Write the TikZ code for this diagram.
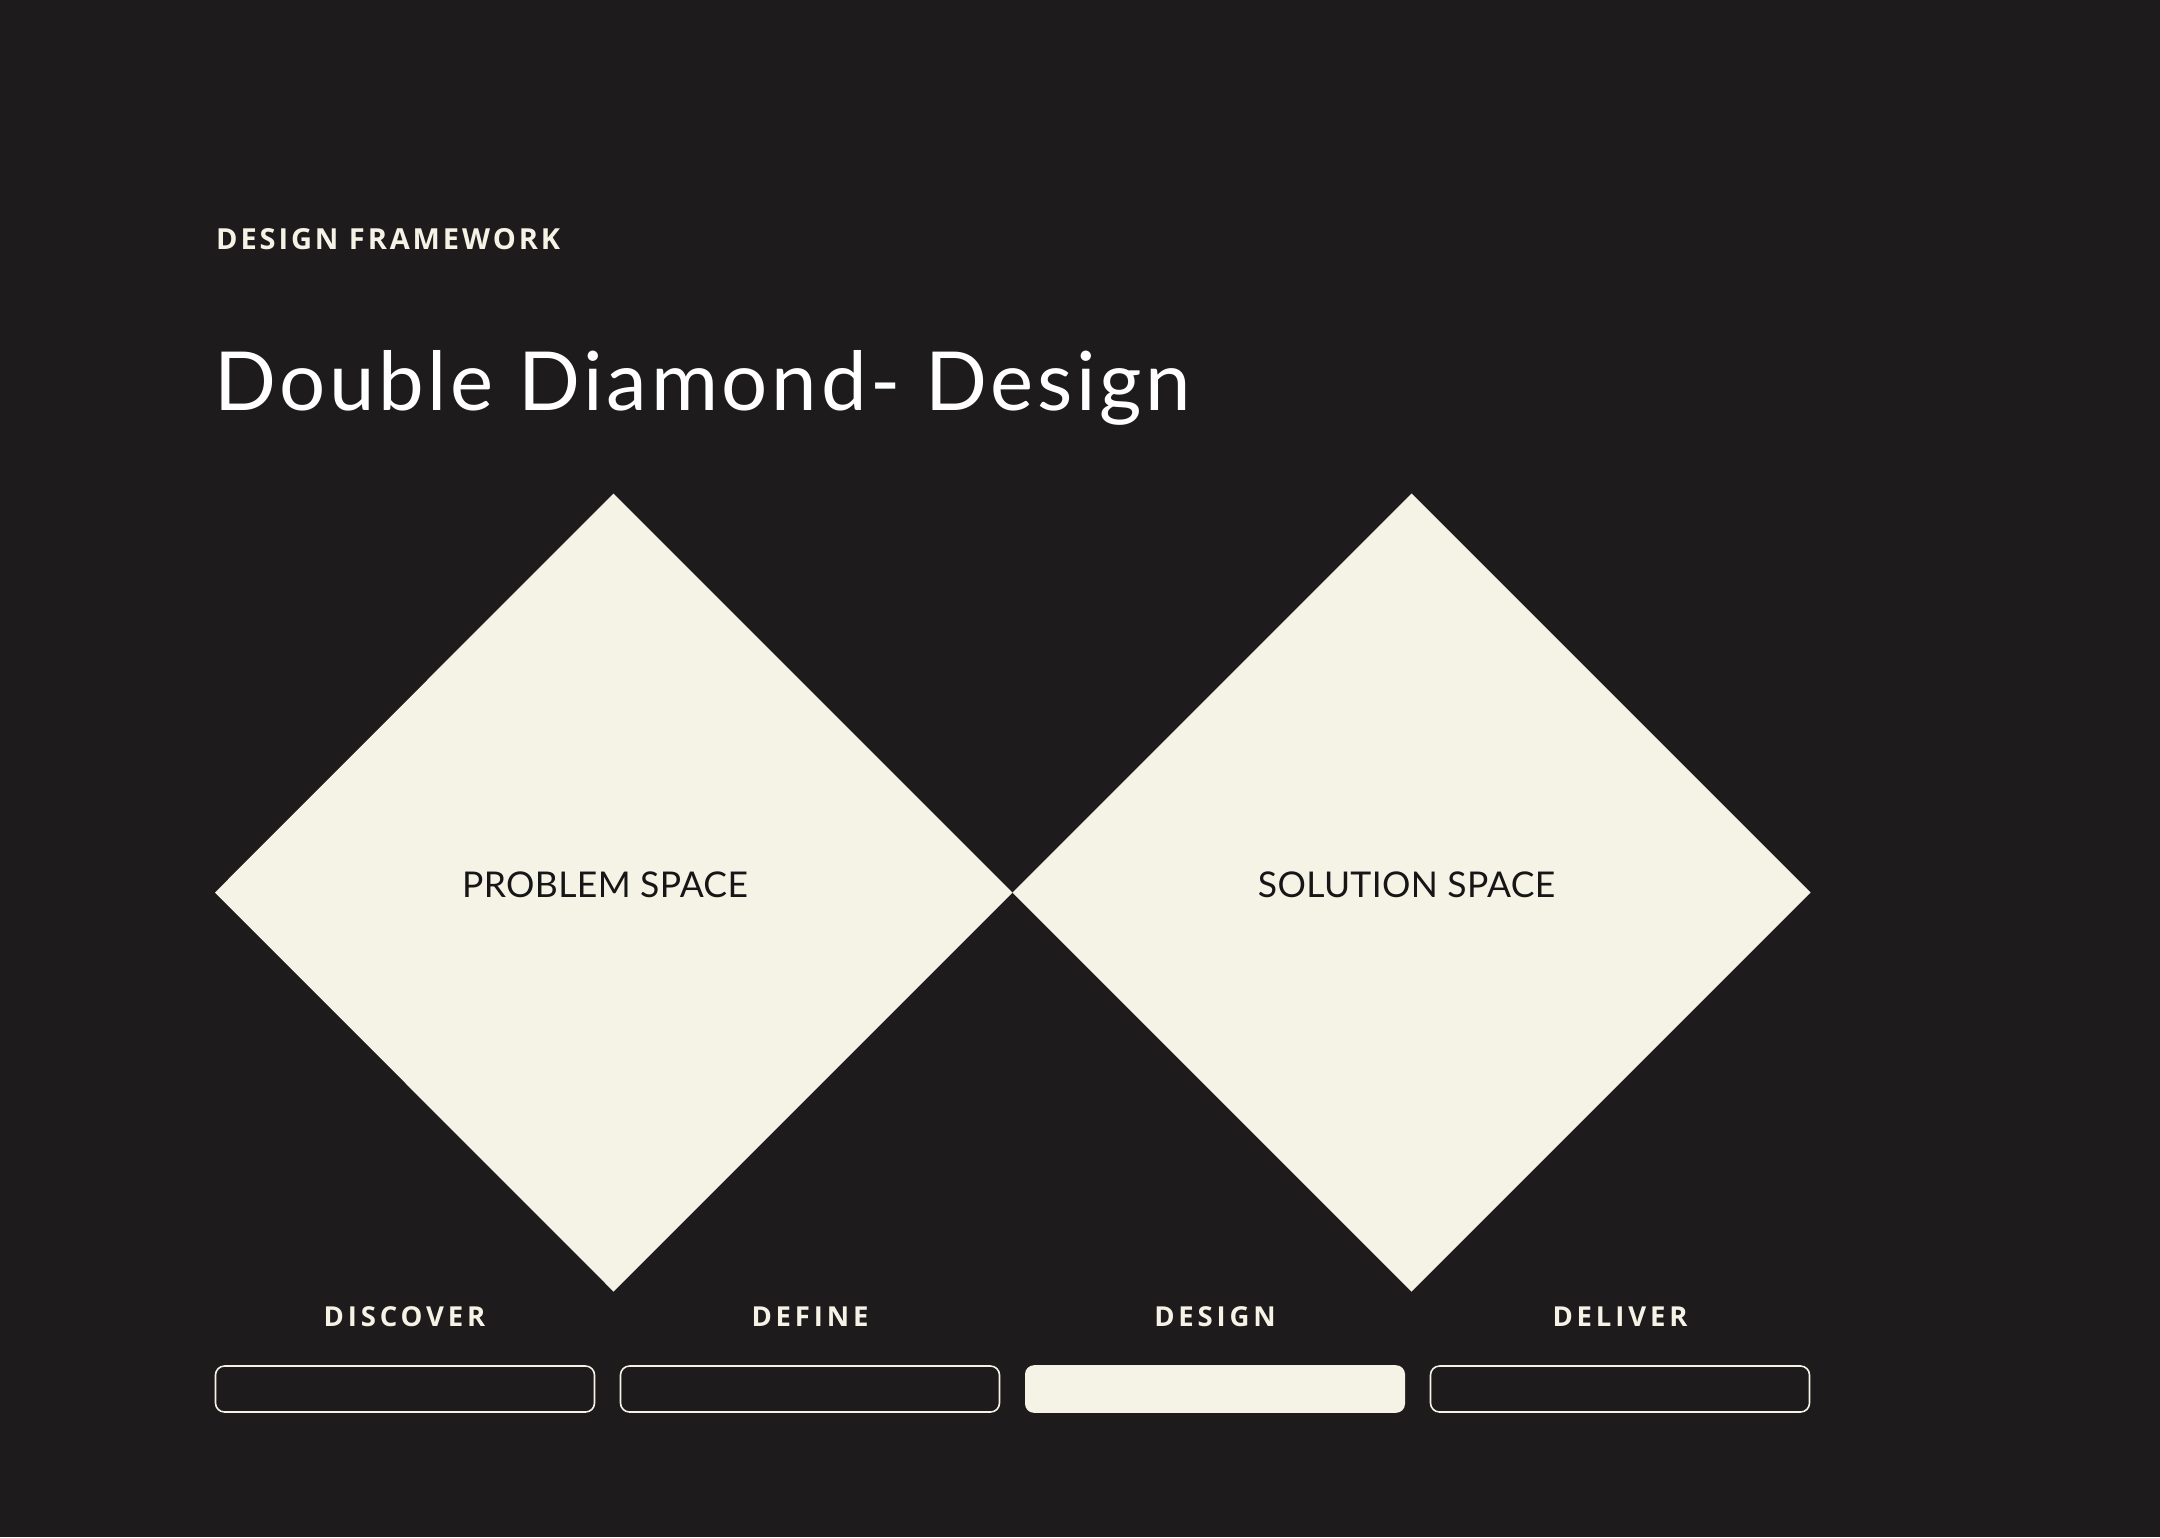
\documentclass[tikz,border=0pt]{standalone}
\usepackage{fontspec}
\newfontfamily\titlefont[LetterSpace=4.6]{Lato}
\newfontfamily\spacefont[LetterSpace=1]{Lato}
\newfontfamily\capsfont[LetterSpace=10]{Open Sans}
\newfontfamily\stagefont[LetterSpace=14]{Open Sans}
\definecolor{bg}{HTML}{1D1B1C}
\definecolor{cream}{HTML}{F5F3E6}
\definecolor{ink}{HTML}{161616}
\tikzset{
  stagebox/.style={draw=cream, line width=1.6pt, rounded corners=9pt},
  activebox/.style={fill=cream, rounded corners=9pt},
  stagelabel/.style={text=cream, font=\stagefont\bfseries\fontsize{27.5}{30}\selectfont, anchor=base, inner sep=0pt},
  spacelabel/.style={text=ink, font=\spacefont\fontsize{35.5}{40}\selectfont, anchor=base, inner sep=0pt},
}
\begin{document}
\begin{tikzpicture}[x=1pt,y=-1pt]
\fill[bg] (0,0) rectangle (2160,1537);
\useasboundingbox (0,0) rectangle (2160,1537);
% header
\node[anchor=base west, inner sep=0pt, text=cream, font=\capsfont\bfseries\fontsize{29}{32}\selectfont] (eyebrow) at (216,249) {DESIGN FRAMEWORK};
\node[anchor=base west, inner sep=0pt, text=white, font=\titlefont\fontsize{81.5}{90}\selectfont] (title) at (214,410.7) {Double Diamond- Design};
% diamonds
\fill[cream] (215,892.5) -- (613.5,493.5) -- (1012.5,892.5) -- (613.5,1291.5) -- cycle;
\fill[cream] (1012.5,892.5) -- (1411.5,493.5) -- (1810.5,892.5) -- (1411.5,1291.5) -- cycle;
\node[spacelabel] (problem) at (605,897.5) {PROBLEM SPACE};
\node[spacelabel] (solution) at (1406.5,897.5) {SOLUTION SPACE};
% stage labels
\node[stagelabel] (discover) at (404.5,1326) {DISCOVER};
\node[stagelabel] (define) at (810,1326) {DEFINE};
\node[stagelabel] (design) at (1215,1326) {DESIGN};
\node[stagelabel] (deliver) at (1620,1326) {DELIVER};
% stage bars
\draw[stagebox] (215.5,1366) rectangle (594.5,1412);
\draw[stagebox] (620.5,1366) rectangle (999.5,1412);
\fill[activebox] (1025,1365.2) rectangle (1405,1412.8);
\draw[stagebox] (1430.5,1366) rectangle (1809.5,1412);
\end{tikzpicture}
\end{document}
